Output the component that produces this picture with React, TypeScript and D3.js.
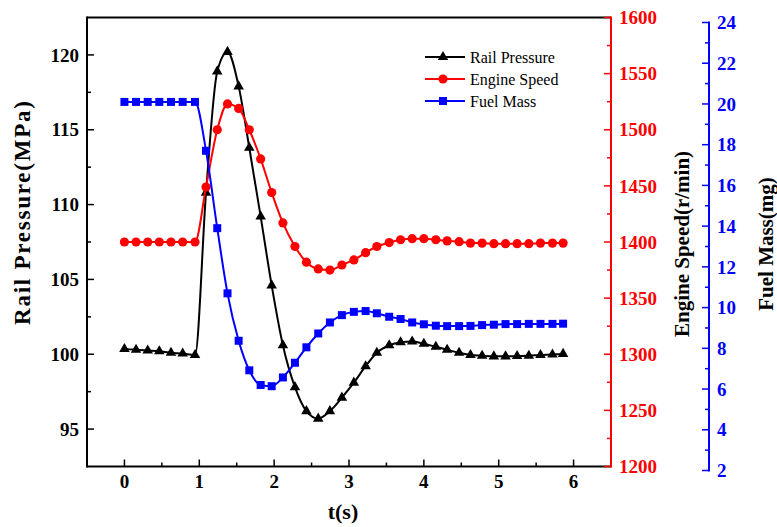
import React from "react";
import * as d3 from "d3";

const TIME = [0, 0.155, 0.311, 0.466, 0.622, 0.778, 0.943, 1.09, 1.24, 1.377, 1.526, 1.668, 1.82, 1.967, 2.117, 2.278, 2.431, 2.589, 2.745, 2.905, 3.065, 3.222, 3.372, 3.537, 3.689, 3.844, 4.0, 4.16, 4.311, 4.471, 4.623, 4.778, 4.935, 5.091, 5.246, 5.402, 5.558, 5.718, 5.86];
const RAIL = [100.35, 100.3, 100.25, 100.2, 100.1, 100.05, 99.95, 110.8, 118.9, 120.2, 117.9, 113.8, 109.2, 104.6, 100.6, 97.8, 96.2, 95.7, 96.2, 97.1, 98.1, 99.2, 100.1, 100.6, 100.8, 100.85, 100.7, 100.5, 100.3, 100.1, 99.95, 99.9, 99.86, 99.86, 99.88, 99.9, 99.95, 99.98, 100.02];
const SPEED = [1400, 1400, 1400, 1400, 1400, 1400, 1400, 1449, 1500, 1523, 1519, 1500, 1474, 1444, 1417, 1396, 1382, 1376, 1375, 1379.5, 1384, 1390.5, 1396, 1399.5, 1402, 1403, 1403, 1402, 1401, 1400.3, 1399, 1399, 1398.5, 1398.5, 1398.5, 1398.5, 1399, 1399, 1399];
const FUEL = [20.1, 20.1, 20.1, 20.1, 20.1, 20.1, 20.1, 17.7, 13.9, 10.7, 8.37, 6.92, 6.2, 6.14, 6.57, 7.29, 8.05, 8.73, 9.27, 9.63, 9.79, 9.83, 9.72, 9.55, 9.44, 9.27, 9.18, 9.11, 9.09, 9.09, 9.1, 9.14, 9.16, 9.19, 9.19, 9.2, 9.2, 9.2, 9.21];

const X_TICKS = [0, 1, 2, 3, 4, 5, 6];
const X_MINOR = [0.5, 1.5, 2.5, 3.5, 4.5, 5.5];
const RAIL_TICKS = [95, 100, 105, 110, 115, 120];
const RAIL_MINOR = [97.5, 102.5, 107.5, 112.5, 117.5];
const SPEED_TICKS = [1200, 1250, 1300, 1350, 1400, 1450, 1500, 1550, 1600];
const SPEED_MINOR = [1225, 1275, 1325, 1375, 1425, 1475, 1525, 1575];
const FUEL_TICKS = [2, 4, 6, 8, 10, 12, 14, 16, 18, 20, 22, 24];
const FUEL_MINOR = [3, 5, 7, 9, 11, 13, 15, 17, 19, 21, 23];

const SERIES_NAMES = ["Rail Pressure", "Engine Speed", "Fuel Mass"];

const W = 777, H = 527;
const L = 87, R = 611, T = 17.5, B = 466.5;
const BLUE_X = 709, BLUE_T = 22.5, BLUE_B = 470.5;
const FONT = "'Liberation Serif', 'Times New Roman', serif";
const RED = "#ff0000", BLUE = "#0000ff", BLACK = "#000000";

export default function App() {
  const x = d3.scaleLinear().domain([-0.5, 6.5]).range([L, R]);
  const yRail = d3.scaleLinear().domain([92.5, 122.5]).range([B, T]);
  const ySpeed = d3.scaleLinear().domain([1200, 1600]).range([B, T]);
  const yFuel = d3.scaleLinear().domain([2, 24]).range([BLUE_B, BLUE_T]);

  const mk = (vals: number[], ys: d3.ScaleLinear<number, number>) =>
    d3.line<number>().x((_, i) => x(TIME[i])).y((v) => ys(v)).curve(d3.curveMonotoneX)(vals) || "";

  const tri = d3.symbol(d3.symbolTriangle, 48)() || "";
  const sq = d3.symbol(d3.symbolSquare, 64)() || "";

  const series = [
    { vals: RAIL, ys: yRail, color: BLACK, shape: "tri" },
    { vals: SPEED, ys: ySpeed, color: RED, shape: "circle" },
    { vals: FUEL, ys: yFuel, color: BLUE, shape: "sq" },
  ];

  const marker = (shape: string, color: string, cx: number, cy: number, key: any) => {
    if (shape === "circle") return <circle key={key} cx={cx} cy={cy} r={4.6} fill={color} />;
    return <path key={key} d={shape === "tri" ? tri : sq} transform={`translate(${cx},${cy})`} fill={color} />;
  };

  const tickFont = { fontFamily: FONT, fontWeight: 700, fontSize: 19 } as const;
  const titleFont = { fontFamily: FONT, fontWeight: 700, fontSize: 21 } as const;

  return (
    <svg width={W} height={H} style={{ position: "absolute", left: 0, top: 0, background: "#fff" }}>
      <rect x={0} y={0} width={W} height={H} fill="#fff" />
      {/* frame */}
      <line x1={L} y1={T} x2={R} y2={T} stroke={BLACK} strokeWidth={2} />
      <line x1={L} y1={B} x2={R} y2={B} stroke={BLACK} strokeWidth={2} />
      <line x1={L} y1={T - 1} x2={L} y2={B + 1} stroke={BLACK} strokeWidth={2} />

      {/* x axis ticks */}
      {X_TICKS.map((t) => (
        <g key={"xt" + t}>
          <line x1={x(t)} x2={x(t)} y1={B} y2={B - 7} stroke={BLACK} strokeWidth={1.5} />
          <text x={x(t)} y={B + 21} textAnchor="middle" {...tickFont} fill={BLACK}>{t}</text>
        </g>
      ))}
      {X_MINOR.map((t) => (
        <line key={"xm" + t} x1={x(t)} x2={x(t)} y1={B} y2={B - 4} stroke={BLACK} strokeWidth={1.5} />
      ))}
      <text x={343} y={519} textAnchor="middle" {...titleFont} fontSize={22} fill={BLACK}>t(s)</text>

      {/* left axis */}
      {RAIL_TICKS.map((v) => (
        <g key={"rt" + v}>
          <line x1={L} x2={L + 7} y1={yRail(v)} y2={yRail(v)} stroke={BLACK} strokeWidth={1.5} />
          <text x={L - 8} y={yRail(v)} dy="0.35em" textAnchor="end" {...tickFont} fill={BLACK}>{v}</text>
        </g>
      ))}
      {RAIL_MINOR.map((v) => (
        <line key={"rm" + v} x1={L} x2={L + 4} y1={yRail(v)} y2={yRail(v)} stroke={BLACK} strokeWidth={1.5} />
      ))}
      <text transform={`translate(22,213) rotate(-90)`} dy="0.35em" textAnchor="middle" {...titleFont} fontSize={23} textLength={224} lengthAdjust="spacing" fill={BLACK}>Rail Pressure(MPa)</text>

      {/* red axis */}
      <line x1={R} x2={R} y1={T - 1} y2={B + 1} stroke={RED} strokeWidth={2} />
      {SPEED_TICKS.map((v) => (
        <g key={"st" + v}>
          <line x1={R - 7} x2={R} y1={ySpeed(v)} y2={ySpeed(v)} stroke={RED} strokeWidth={1.5} />
          <text x={R + 8} y={ySpeed(v)} dy="0.35em" textAnchor="start" {...tickFont} fill={RED}>{v}</text>
        </g>
      ))}
      {SPEED_MINOR.map((v) => (
        <line key={"sm" + v} x1={R - 4} x2={R} y1={ySpeed(v)} y2={ySpeed(v)} stroke={RED} strokeWidth={1.5} />
      ))}
      <text transform={`translate(682,244) rotate(-90)`} dy="0.35em" textAnchor="middle" {...titleFont} fill={BLACK}>Engine Speed(r/min)</text>

      {/* blue axis */}
      <line x1={BLUE_X} x2={BLUE_X} y1={BLUE_T - 1} y2={BLUE_B + 1} stroke={BLUE} strokeWidth={2} />
      {FUEL_TICKS.map((v) => (
        <g key={"ft" + v}>
          <line x1={BLUE_X - 7} x2={BLUE_X} y1={yFuel(v)} y2={yFuel(v)} stroke={BLUE} strokeWidth={1.5} />
          <text x={BLUE_X + 8} y={yFuel(v)} dy="0.35em" textAnchor="start" {...tickFont} fill={BLUE}>{v}</text>
        </g>
      ))}
      {FUEL_MINOR.map((v) => (
        <line key={"fm" + v} x1={BLUE_X - 4} x2={BLUE_X} y1={yFuel(v)} y2={yFuel(v)} stroke={BLUE} strokeWidth={1.5} />
      ))}
      <text transform={`translate(766,244) rotate(-90)`} dy="0.35em" textAnchor="middle" {...titleFont} fill={BLACK}>Fuel Mass(mg)</text>

      {/* series */}
      {series.map((s, si) => (
        <g key={"s" + si}>
          <path d={mk(s.vals, s.ys)} fill="none" stroke={s.color} strokeWidth={2} />
          {s.vals.map((v, i) => marker(s.shape, s.color, x(TIME[i]), s.ys(v), i))}
        </g>
      ))}

      {/* legend */}
      {series.map((s, si) => {
        const ly = 57 + si * 22;
        return (
          <g key={"lg" + si}>
            <line x1={425} x2={465} y1={ly} y2={ly} stroke={s.color} strokeWidth={2} />
            {marker(s.shape, s.color, 443, ly, "m")}
            <text x={470} y={ly} dy="0.35em" fontFamily={FONT} fontSize={16} fill={BLACK}>{SERIES_NAMES[si]}</text>
          </g>
        );
      })}
    </svg>
  );
}
